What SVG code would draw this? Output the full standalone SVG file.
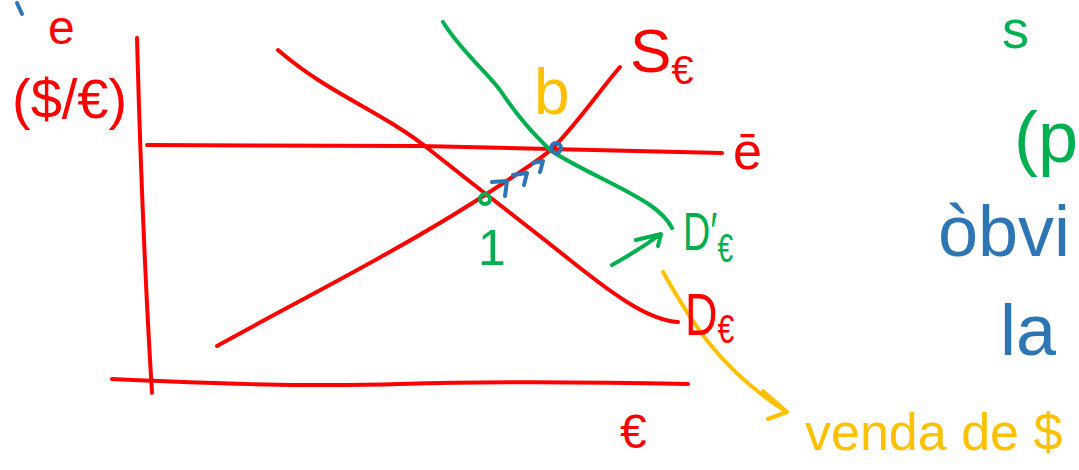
<svg xmlns="http://www.w3.org/2000/svg" width="1079" height="470" viewBox="0 0 1079 470">
<style>
.s{fill:none;stroke-width:4;stroke-linecap:round;stroke-linejoin:round}
.r{stroke:#ff0000}.g{stroke:#00b050}.b{stroke:#2e75b6}.y{stroke:#ffc000}
text{font-family:"Liberation Sans","DejaVu Sans",sans-serif}
.tr{fill:#ff0000}.tg{fill:#00b050}.tb{fill:#2e75b6}.ty{fill:#ffc000}
</style>
<rect width="1079" height="470" fill="#ffffff"/>
<g id="axes">
<path class="s r" d="M137,38 C140,150 145,280 152,393"/>
<path class="s r" d="M112,379 C200,383 300,387 400,384 S600,382 688,384"/>
</g>
<g id="connectors">
<path class="s r" d="M147,145 L420,146 L722,153"/>
<path class="s r" d="M217,346 C300,300 400,250 485,195 C520,172 540,160 553,148 C580,120 600,90 620,67"/>
<path class="s r" d="M278,50 C330,95 380,110 430,150 C480,190 520,220 570,260 C620,300 650,320 678,322"/>
<path class="s g" d="M443,22 C460,50 485,70 500,90 C520,120 535,135 550,150 C580,170 620,185 650,205 C660,212 668,220 672,228"/>
<path class="s g" d="M612,265 C630,255 650,242 661,234 M636,240 L661,234 L658,246"/>
<path class="s y" d="M663,272 C690,320 720,370 787,412 M763,391 L787,412 L768,419"/>
<path class="s b" d="M492,182 L507,181 L505,196 M513,175 L527,173 L524,185 M533,163 L543,161 L540,172"/>
<circle class="s b" cx="556" cy="148" r="5"/>
<circle class="s g" cx="485" cy="199" r="5"/>
<path class="s b" d="M17,3 L22,14"/>
</g>
<g id="labels-left">
<text class="tr" x="48" y="44" font-size="48">e</text>
<text class="tr" x="12" y="118" font-size="56">($/€)</text>
<text class="tr" x="620" y="448" font-size="48">€</text>
</g>
<g id="labels-curves">
<text class="tr" x="630" y="72" font-size="62">S<tspan font-size="40" dy="12">€</tspan></text>
<text class="ty" x="534" y="114" font-size="64">b</text>
<text class="tr" x="733" y="169" font-size="52">ē</text>
<text class="tg" x="478" y="265" font-size="50">1</text>
<text class="tg" transform="translate(683,250) scale(0.7,1)" font-size="54">D′<tspan font-size="40" dy="12">€</tspan></text>
<text class="tr" transform="translate(685,335) scale(0.75,1)" font-size="60">D<tspan font-size="40" dy="8">€</tspan></text>
</g>
<g id="labels-right">
<text class="ty" x="805" y="450" font-size="52">venda de $</text>
<text class="tg" x="1002" y="48" font-size="54">s</text>
<text class="tg" x="1014" y="162" font-size="72">(p</text>
<text class="tb" x="938" y="256" font-size="72">òbvi</text>
<text class="tb" x="1000" y="355" font-size="72">la</text>
</g>
</svg>
